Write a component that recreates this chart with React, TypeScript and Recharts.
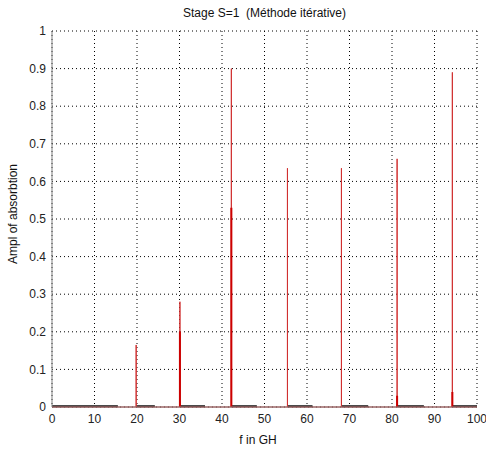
import React from 'react';
import { CartesianGrid, Label, Line, LineChart, XAxis, YAxis } from 'recharts';

// Absorption peaks (f in GHz, amplitude)
const peakFreqs = [19.8, 30.1, 42.2, 55.4, 68.1, 81.2, 94.2];
const peakAmps = [0.165, 0.28, 0.9, 0.635, 0.635, 0.66, 0.89];

// darker, thicker lower part of some peaks
const innerFreqs = [30.1, 42.2, 81.2, 94.2];
const innerAmps = [0.2, 0.53, 0.03, 0.04];

// short black segments lying on the baseline
const segStarts = [0, 19.8, 30.1, 42.2, 55.4, 68.1, 81.2, 94.2];
const segEnds = [15.5, 24.2, 36, 48.2, 61.3, 74.4, 87.5, 100];
const segLevel = 0.002;

const xTicks = [0, 10, 20, 30, 40, 50, 60, 70, 80, 90, 100];
const yTicks = [0, 0.1, 0.2, 0.3, 0.4, 0.5, 0.6, 0.7, 0.8, 0.9, 1];

const spikeData: { x: number; y: number }[] = [{ x: 0, y: 0 }];
peakFreqs.forEach((f, i) => {
  spikeData.push({ x: f, y: 0 }, { x: f, y: peakAmps[i] }, { x: f, y: 0 });
});
spikeData.push({ x: 100, y: 0 });

const innerData: { x: number; y: number | null }[] = [];
innerFreqs.forEach((f, i) => {
  innerData.push({ x: f, y: 0 }, { x: f, y: innerAmps[i] }, { x: f, y: null });
});

const segData: { x: number; y: number | null }[] = [];
segStarts.forEach((s, i) => {
  segData.push({ x: s, y: segLevel }, { x: segEnds[i], y: segLevel }, { x: segEnds[i], y: null });
});

const font = 'Liberation Sans, Arial, sans-serif';
const tickStyle = { fontSize: 12, fill: '#222', fontFamily: font };

const App = () => {
  return (
    <div style={{ position: 'absolute', left: 0, top: 0, width: 486, height: 450, background: '#fff' }}>
      <div
        style={{
          position: 'absolute',
          top: 6,
          left: 0,
          width: 529,
          textAlign: 'center',
          fontFamily: font,
          fontSize: 12,
          color: '#111',
        }}
      >
        Stage S=1&nbsp;&nbsp;(Méthode itérative)
      </div>
      <LineChart width={486} height={450} margin={{ top: 31, right: 9, bottom: 13, left: 12 }}>
        <CartesianGrid stroke="#000" strokeDasharray="1 3" horizontalValues={yTicks} verticalValues={xTicks} />
        <XAxis
          dataKey="x"
          type="number"
          domain={[0, 100]}
          ticks={xTicks}
          allowDuplicatedCategory={false}
          height={30}
          tickLine={false}
          tickSize={0}
          tickMargin={7}
          axisLine={{ stroke: '#808080' }}
          tick={tickStyle}
        >
          <Label
            content={() => (
              <text x={258} y={444} textAnchor="middle" fontSize={12} fontFamily={font} fill="#111">
                f in GH
              </text>
            )}
          />
        </XAxis>
        <YAxis
          type="number"
          domain={[0, 1]}
          ticks={yTicks}
          width={40}
          tickLine={false}
          tickSize={0}
          tickMargin={6}
          axisLine={{ stroke: '#808080' }}
          tick={tickStyle}
        >
          <Label
            content={() => (
              <text
                x={17}
                y={214}
                transform="rotate(-90 17 214)"
                textAnchor="middle"
                fontSize={12}
                fontFamily={font}
                fill="#111"
              >
                Ampl of absorbtion
              </text>
            )}
          />
        </YAxis>
        <Line
          data={segData}
          dataKey="y"
          type="linear"
          stroke="#111"
          strokeWidth={2}
          dot={false}
          connectNulls={false}
          isAnimationActive={false}
        />
        <Line
          data={spikeData}
          dataKey="y"
          type="linear"
          stroke="#d03030"
          strokeWidth={1}
          dot={false}
          isAnimationActive={false}
        />
        <Line
          data={innerData}
          dataKey="y"
          type="linear"
          stroke="#cc0000"
          strokeWidth={2}
          dot={false}
          connectNulls={false}
          isAnimationActive={false}
        />
      </LineChart>
    </div>
  );
};

export default App;
